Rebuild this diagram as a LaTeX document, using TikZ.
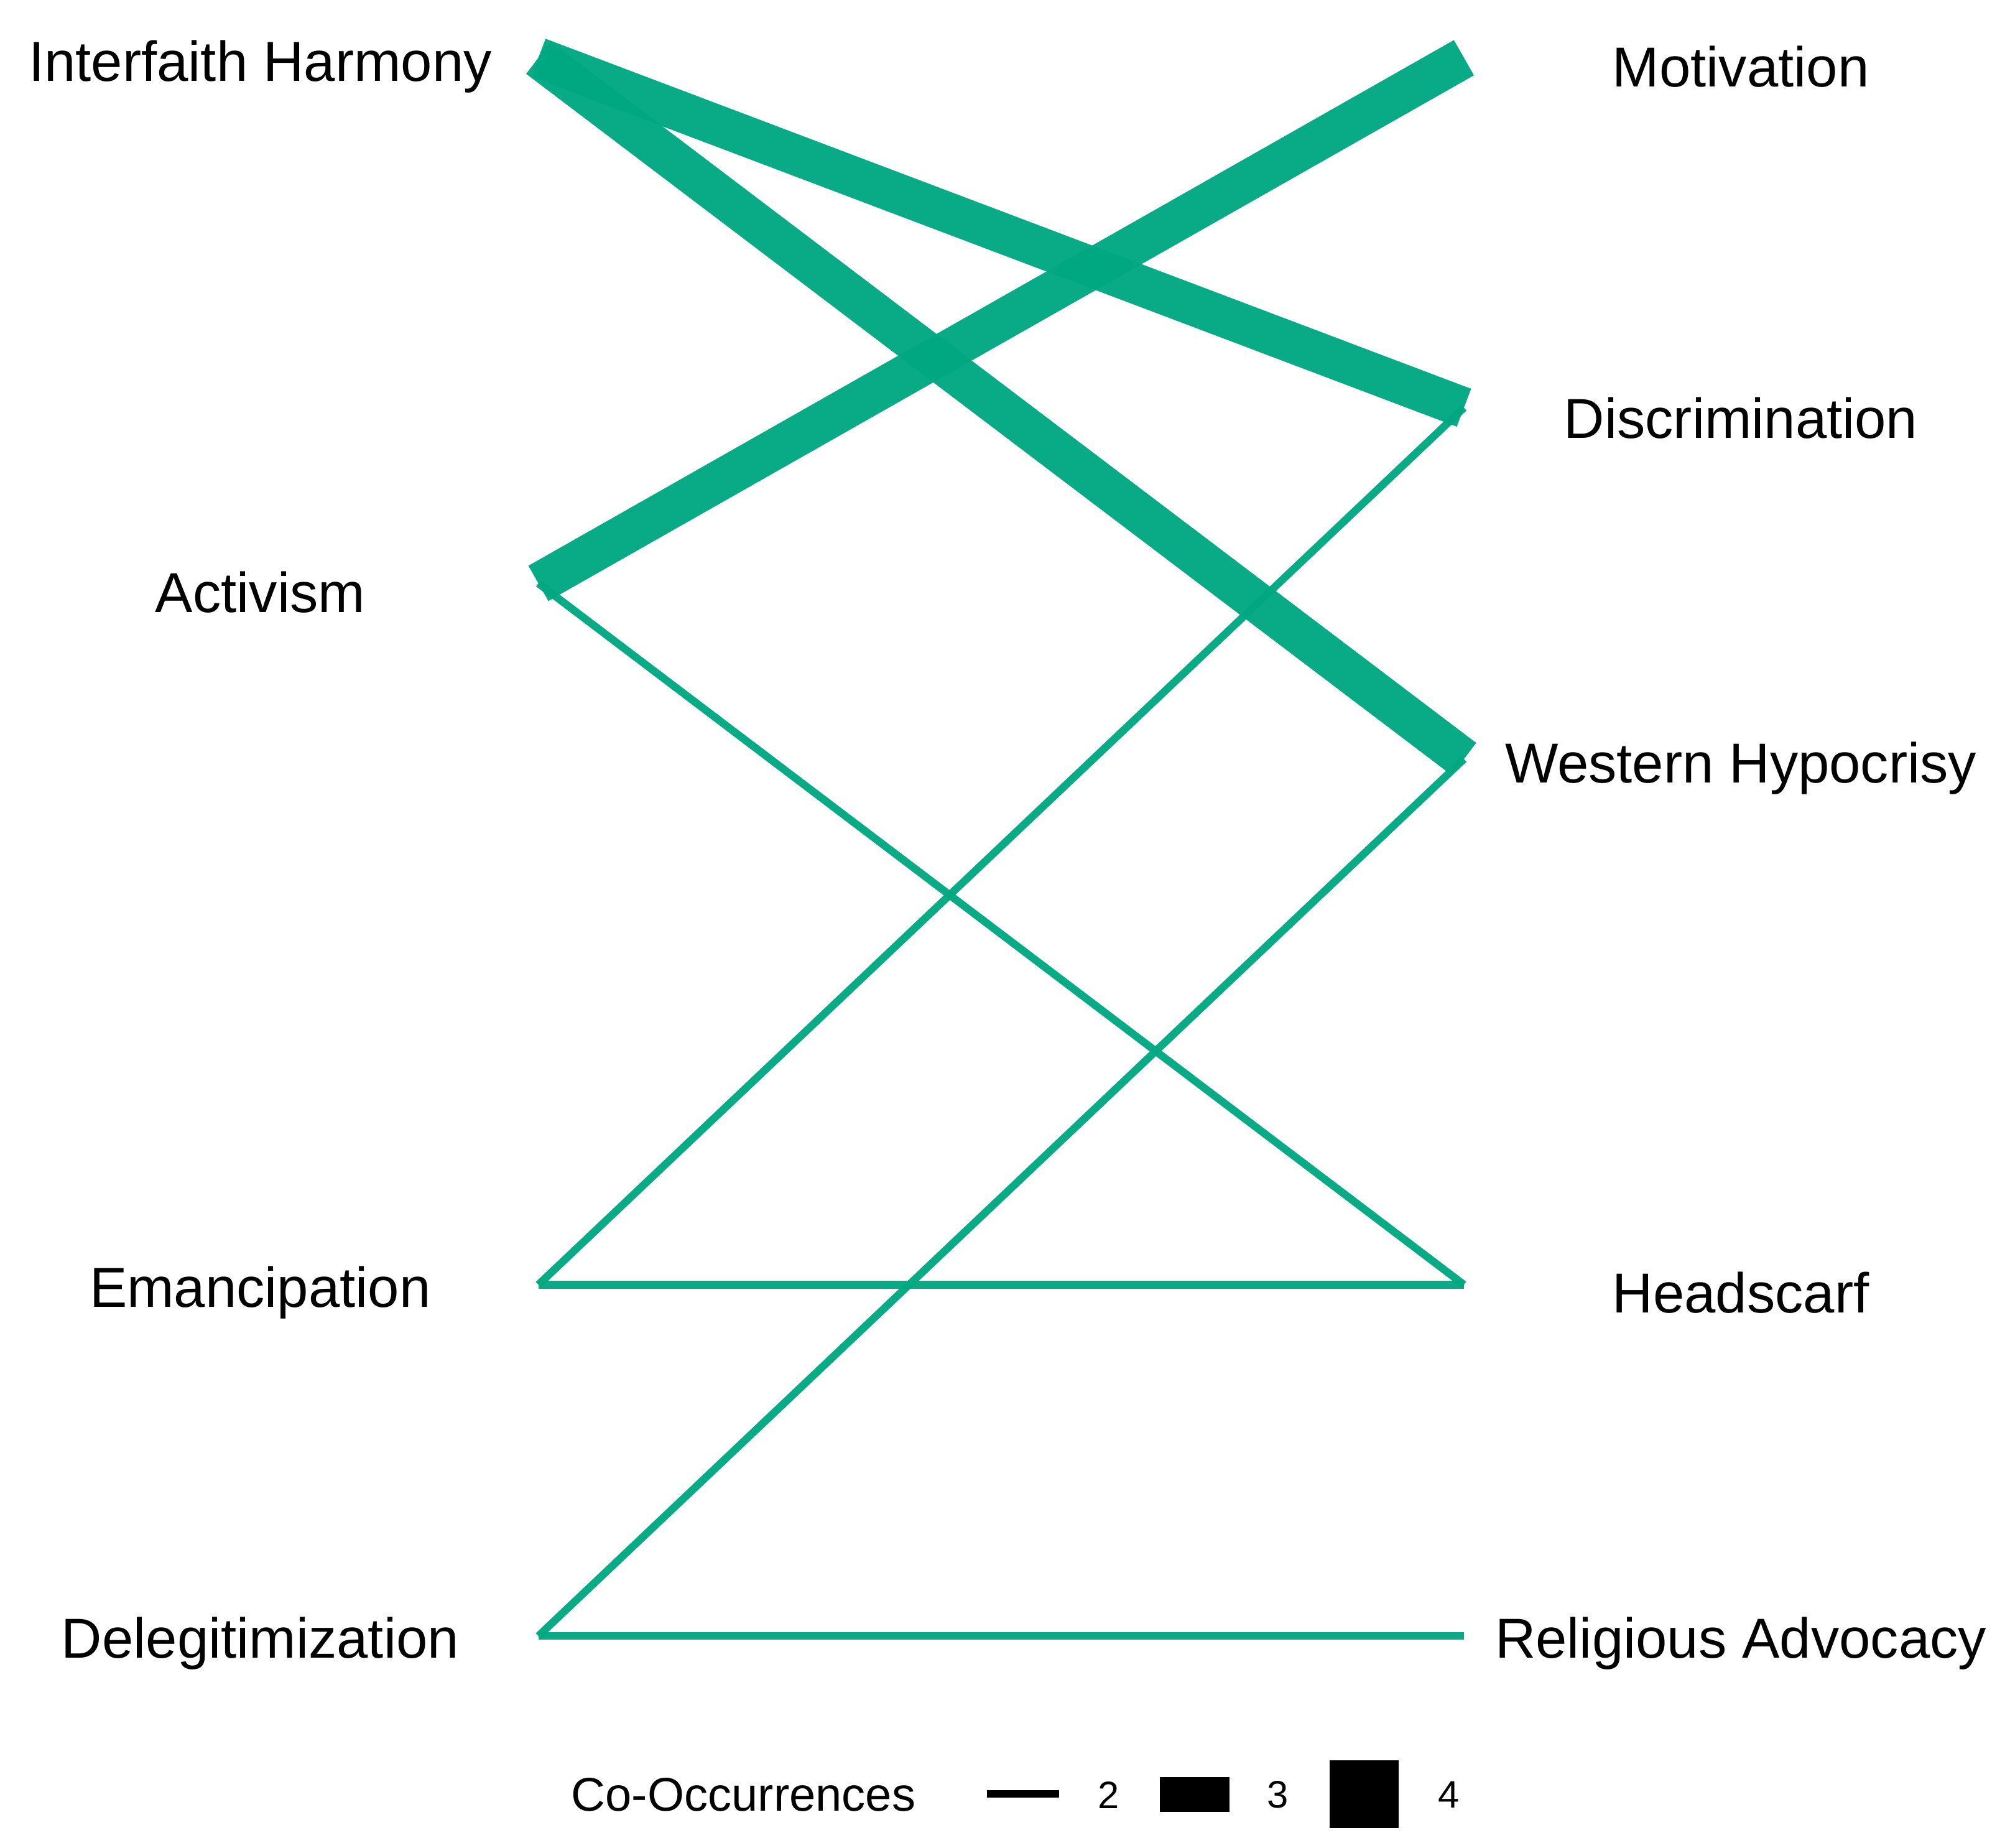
\documentclass[tikz,border=0pt]{standalone}
\usepackage{fontspec}
\setmainfont{Liberation Sans}
\begin{document}
\begin{tikzpicture}[x=0.02cm,y=-0.02cm,
  lab/.style={font=\fontsize{25}{28}\selectfont, anchor=center},
  edge/.style={draw=green!60!black, color={rgb,255:red,0;green,168;blue,130}, opacity=0.97},
  thin/.style={edge, line width=3.4pt},
  thick/.style={edge, line width=18pt}]
\useasboundingbox (0,0) rectangle (1568,1441);
% endpoint coordinates
\coordinate (aIH) at (420,45);
\coordinate (aAC) at (420,455);
\coordinate (aEM) at (420,1002);
\coordinate (aDE) at (420,1276);
\coordinate (bMO) at (1142,45);
\coordinate (bDI) at (1142,318);
\coordinate (bWH) at (1142,592);
\coordinate (bHE) at (1142,1002);
\coordinate (bRA) at (1142,1276);
% labels
\node[lab] (IH) at (203,52) {Interfaith Harmony};
\node[lab] (AC) at (203,462) {Activism};
\node[lab] (EM) at (203,1008) {Emancipation};
\node[lab] (DE) at (203,1282) {Delegitimization};
\node[lab] (MO) at (1358,52) {Motivation};
\node[lab] (DI) at (1358,326) {Discrimination};
\node[lab] (WH) at (1358,599) {Western Hypocrisy};
\node[lab] (HE) at (1358,1008) {Headscarf};
\node[lab] (RA) at (1358,1282) {Religious Advocacy};
% edges
\draw[thin] (aAC) -- (bHE);
\draw[thin] (aEM) -- (bDI);
\draw[thin] (aEM) -- (bHE);
\draw[thin] (aDE) -- (bWH);
\draw[thin] (aDE) -- (bRA);
\draw[thick] (aIH) -- (bDI);
\draw[thick] (aIH) -- (bWH);
\draw[thick] (aAC) -- (bMO);
% legend
\node[lab, font=\fontsize{21}{24}\selectfont] (leg) at (580,1400) {Co-Occurrences};
\fill (770,1396) rectangle (826,1402);
\node[font=\fontsize{17}{20}\selectfont] (l2) at (865,1400) {2};
\fill (905,1386) rectangle (959,1413);
\node[font=\fontsize{17}{20}\selectfont] (l3) at (997,1400) {3};
\fill (1037,1373) rectangle (1091,1426);
\node[font=\fontsize{17}{20}\selectfont] (l4) at (1130,1400) {4};
\end{tikzpicture}
\end{document}
